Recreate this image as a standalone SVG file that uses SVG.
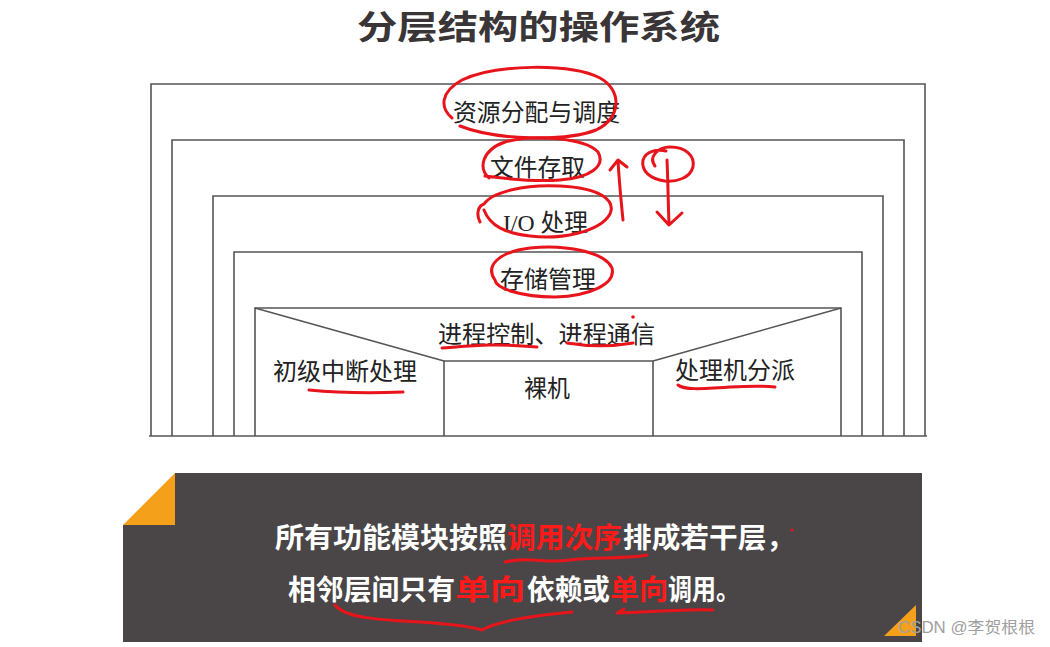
<svg xmlns="http://www.w3.org/2000/svg" width="1050" height="647" viewBox="0 0 1050 647">
<style>
.box{fill:none;stroke:#555;stroke-width:1.6}
.lbl{font-family:"Liberation Serif","Noto Sans CJK SC",sans-serif;font-size:24px;fill:#222}
.red{fill:none;stroke:#e8141b;stroke-width:3;stroke-linecap:round;stroke-linejoin:round}
.bt{font-family:"Noto Sans CJK SC",sans-serif;font-size:28px;font-weight:bold;fill:#ffffff}
.rt{fill:#ff1a1a}
</style>
<rect width="1050" height="647" fill="#ffffff"/>
<text x="357" y="39" font-family="'Noto Sans CJK SC',sans-serif" font-size="33" font-weight="bold" fill="#3a3537" textLength="363" lengthAdjust="spacingAndGlyphs">分层结构的操作系统</text>

<g id="layer-resource">
<path class="box" d="M151,436 V84 H925 V436"/>
<text class="lbl" x="453" y="121" textLength="167" lengthAdjust="spacingAndGlyphs">资源分配与调度</text>
</g>
<g id="layer-file">
<path class="box" d="M172,436 V140 H904 V436"/>
<text class="lbl" x="490" y="176" textLength="95" lengthAdjust="spacingAndGlyphs">文件存取</text>
</g>
<g id="layer-io">
<path class="box" d="M213,436 V196 H883 V436"/>
<text class="lbl" x="503" y="231" textLength="85" lengthAdjust="spacingAndGlyphs">I/O 处理</text>
</g>
<g id="layer-storage">
<path class="box" d="M234,436 V252 H862 V436"/>
<text class="lbl" x="500" y="288" textLength="96" lengthAdjust="spacingAndGlyphs">存储管理</text>
</g>
<g id="layer-process">
<path class="box" d="M255,436 V308 H841 V436"/>
<line class="box" x1="255" y1="308" x2="444" y2="361"/>
<line class="box" x1="841" y1="308" x2="653" y2="361"/>
<text class="lbl" x="438" y="343" textLength="217" lengthAdjust="spacingAndGlyphs">进程控制、进程通信</text>
</g>
<g id="interrupt">
<text class="lbl" x="273" y="380" textLength="144" lengthAdjust="spacingAndGlyphs">初级中断处理</text>
</g>
<g id="bare-machine">
<path class="box" d="M444,436 V361 H653 V436"/>
<text class="lbl" x="524" y="397" textLength="46" lengthAdjust="spacingAndGlyphs">裸机</text>
</g>
<g id="dispatch">
<text class="lbl" x="675" y="379" textLength="120" lengthAdjust="spacingAndGlyphs">处理机分派</text>
</g>
<line class="box" x1="149" y1="436" x2="927" y2="436"/>

<g id="connectors">
<path class="red" d="M452,118 C440,108 440,92 462,80 C495,64 570,63 600,78 C622,90 622,118 596,130 C565,142 495,140 460,126"/>
<path class="red" d="M489,178 C478,168 482,150 505,142 C535,134 585,138 598,152 C606,166 590,178 560,180 C530,182 500,178 485,176"/>
<path class="red" d="M480,222 C476,214 478,206 484,204 C492,192 525,184 560,186 C600,188 616,200 610,214 C600,232 560,240 530,236 C505,233 490,226 484,210"/>
<path class="red" d="M495,280 C485,266 498,252 530,248 C565,244 605,252 612,268 C616,284 590,296 555,297 C520,297 496,288 495,280"/>
<path class="red" d="M623,220 C621,200 619,180 618,160 M610,170 L618,160 L627,167"/>
<path class="red" d="M655,166 C648,157 658,147 670,147 C686,147 695,156 693,167 C690,178 677,182 665,181 C650,179 641,171 643,160 C646,151 657,149 666,151 M667,160 C668,180 668,200 669,223 M657,212 L669,225 L682,213"/>
<path class="red" d="M309,390 C340,393 375,393 403,392"/>
<path class="red" d="M678,385 C684,390 700,389 730,387 C750,386 765,386 775,387"/>
<path class="red" d="M442,348 C470,346 495,343 537,347"/>
<path class="red" d="M567,343 C585,346 610,347 633,343"/>
<circle cx="633" cy="317" r="1.8" fill="#e8141b"/>
</g>

<g id="note">
<path d="M175,473 H922 V642 H123 V525 H175 Z" fill="#4a4648"/>
<path d="M175,473 L123,525 H175 Z" fill="#f5a01a"/>
<path d="M916,605 L884,636 H916 Z" fill="#f5a01a"/>
<text class="bt" y="548"><tspan x="275" textLength="232" lengthAdjust="spacingAndGlyphs">所有功能模块按照</tspan><tspan class="rt" x="507" textLength="115" lengthAdjust="spacingAndGlyphs">调用次序</tspan><tspan x="623" textLength="172" lengthAdjust="spacingAndGlyphs">排成若干层，</tspan></text>
<text class="bt" y="600"><tspan x="288" textLength="167" lengthAdjust="spacingAndGlyphs">相邻层间只有</tspan><tspan class="rt" x="455" textLength="70" lengthAdjust="spacingAndGlyphs">单向</tspan><tspan x="527" textLength="83" lengthAdjust="spacingAndGlyphs">依赖或</tspan><tspan class="rt" x="610" textLength="58" lengthAdjust="spacingAndGlyphs">单向</tspan><tspan x="668" textLength="72" lengthAdjust="spacingAndGlyphs">调用。</tspan></text>
<path class="red" d="M505,562 C530,556 545,564 570,560 C595,556 620,560 647,555"/>
<circle cx="792" cy="530" r="1.6" fill="#e8141b"/>
<path class="red" d="M335,605 C345,618 380,620 420,622 C450,624 470,626 482,630 C495,622 530,616 572,612"/>
<path class="red" d="M624,609 L617,613 C650,612 690,609 713,610"/>
</g>
<text x="898" y="633" font-family="'Liberation Sans','Noto Sans CJK SC',sans-serif" font-size="16" fill="#a0a0a0" textLength="137" lengthAdjust="spacingAndGlyphs">CSDN @李贺根根</text>
</svg>
